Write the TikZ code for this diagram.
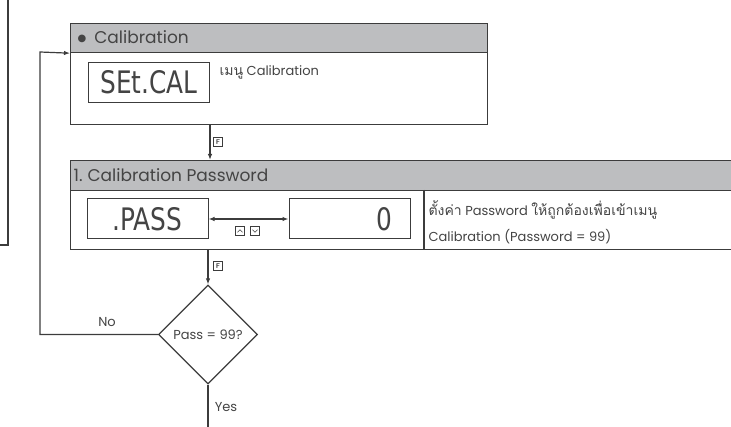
\documentclass[tikz,border=0pt]{standalone}
\usepackage{fontspec}
\setmainfont{Poppins}
\newfontfamily\thaifont[Script=Thai,Scale=1.08]{Loma}
\newfontfamily\segfont[FakeStretch=0.8]{DejaVu Sans}
\newfontfamily\symfont{DejaVu Sans}
\usetikzlibrary{arrows.meta,shapes.geometric}
\definecolor{ln}{HTML}{3C3C3C}
\definecolor{hdrgray}{HTML}{BDBEC0}
\definecolor{tx}{HTML}{444444}
\begin{document}
\begin{tikzpicture}[x=1pt,y=-1pt,line width=1.2pt,draw=ln,text=tx,
  box/.style={draw=ln,fill=white,anchor=north west,inner sep=0pt},
  hdrbox/.style={draw=ln,fill=hdrgray,anchor=north west,inner sep=0pt},
  hdrtext/.style={anchor=west,inner sep=0pt,font=\fontsize{17}{17}\selectfont},
  bodytext/.style={anchor=west,inner sep=0pt,font=\fontsize{13}{13}\selectfont},
  disp/.style={draw=ln,line width=1pt,minimum width=121pt,minimum height=40pt,inner sep=0pt,
    font=\segfont\fontsize{31}{31}\selectfont},
  keybox/.style={draw=ln,line width=0.6pt,minimum size=9pt,inner sep=0pt,
    font=\sffamily\bfseries\fontsize{7}{7}\selectfont},
  arr/.style={-{Latex[length=6pt,width=4.5pt]}},
  darr/.style={{Latex[length=6pt,width=4.5pt]}-{Latex[length=6pt,width=4.5pt]}}]
\useasboundingbox (0,0) rectangle (731,427);

% cut-off box at the left
\draw (8,-5) -- (8,245) -- (-5,245);

% Calibration block
\node[box,minimum width=417pt,minimum height=101pt] (cal) at (70,23) {};
\node[hdrbox,minimum width=417pt,minimum height=29pt] (calh) at (70,23) {};
\node[hdrtext] (calt) at (77,37.5) {\raisebox{2.5pt}{\symfont\fontsize{10}{10}\selectfont ●}\hspace{8pt}Calibration};
\node[disp,anchor=north west] (seg1) at (88,62) {SEt.CAL};
\node[bodytext] (calm) at (219,72) {{\thaifont เมนู} Calibration};

% Password block
\node[box,minimum width=680pt,minimum height=89pt] (pw) at (70,160) {};
\node[hdrbox,minimum width=680pt,minimum height=30pt] (pwh) at (70,160) {};
\node[hdrtext] (pwt) at (73,175.5) {1.\hspace{5pt}Calibration Password};
\draw (424,190) -- (424,249);
\node[disp] (pass) at (147.5,219) {.PASS};
\node[disp,text width=85pt,inner xsep=18pt,align=right] (zero) at (349.5,219) {0};
\draw[darr] (pass.east) -- (zero.west);
\node[keybox] (up) at (240,231) {};
\node[keybox] (dn) at (255,231) {};
\draw[line width=0.6pt] ([xshift=-2.5pt,yshift=-1.3pt]up.center) -- ([yshift=1.3pt]up.center) -- ([xshift=2.5pt,yshift=-1.3pt]up.center);
\draw[line width=0.6pt] ([xshift=-2.5pt,yshift=1.3pt]dn.center) -- ([yshift=-1.3pt]dn.center) -- ([xshift=2.5pt,yshift=1.3pt]dn.center);
\node[bodytext] (pwm1) at (428,210) {{\thaifont ตั้งค่า} Password {\thaifont ให้ถูกต้องเพื่อเข้าเมนู}};
\node[bodytext] (pwm2) at (428,237) {Calibration (Password = 99)};

% decision
\node[diamond,aspect=1,draw=ln,minimum size=99pt,inner sep=0pt,font=\fontsize{13}{13}\selectfont] (dia) at (208,334.5) {Pass = 99?};

% connectors
\draw[arr] (cal.south -| seg1.east) -- (pw.north -| seg1.east);
\node[keybox] (f1) at (218,142) {F};
\draw[arr] (pw.south -| dia.north) -- (dia.north);
\node[keybox] (f2) at (218,266) {F};
\coordinate (nocorner) at (40,334.5);
\coordinate (topcorner) at (40,52);
\draw[arr] (dia.west) -- (nocorner) -- (topcorner) -- (calh.south west);
\node[font=\fontsize{13}{13}\selectfont] (nolab) at (107,322) {No};
\coordinate (yesend) at (208,432);
\draw (dia.south) -- (yesend);
\node[font=\fontsize{13}{13}\selectfont] (yeslab) at (226,407) {Yes};
\end{tikzpicture}
\end{document}
